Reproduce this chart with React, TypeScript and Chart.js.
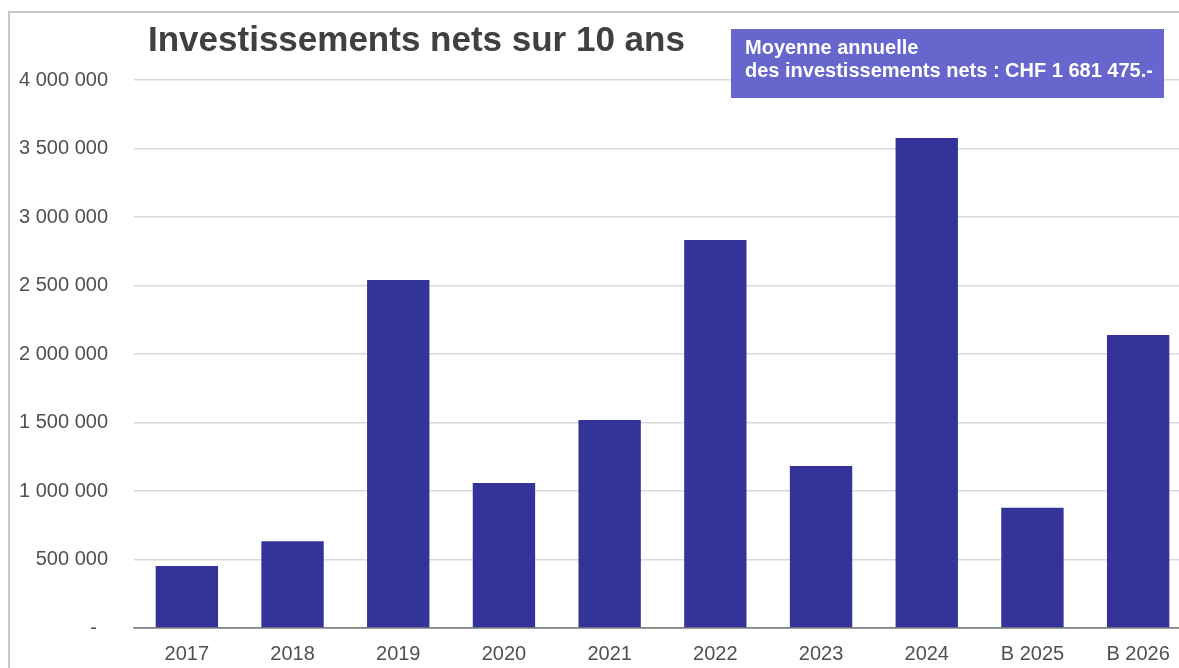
import React, { useEffect, useRef } from "react";
import { Chart, registerables } from "chart.js";

Chart.register(...registerables);

const categories = ["2017", "2018", "2019", "2020", "2021", "2022", "2023", "2024", "B 2025", "B 2026"];
const netInvestments = [452000, 633000, 2540000, 1058000, 1518000, 2832000, 1182000, 3577000, 878000, 2139000];
const yTickValues = [0, 500000, 1000000, 1500000, 2000000, 2500000, 3000000, 3500000, 4000000];
const titleText = "Investissements nets sur 10 ans";
const noteLines = ["Moyenne annuelle", "des investissements nets : CHF 1 681 475.-"];

const FONT = "'Liberation Sans', Arial, sans-serif";

function fmt(v: number): string {
  if (v === 0) return "-  ";
  return String(Math.round(v)).replace(/\B(?=(\d{3})+(?!\d))/g, " ");
}

const decorPlugin = {
  id: "decor",
  afterDraw(chart: any) {
    const ctx = chart.ctx as CanvasRenderingContext2D;
    ctx.save();
    // frame
    ctx.strokeStyle = "#c8c8c8";
    ctx.lineWidth = 2;
    ctx.beginPath();
    ctx.moveTo(9, 700);
    ctx.lineTo(9, 12);
    ctx.lineTo(1300, 12);
    ctx.stroke();
    // title
    ctx.fillStyle = "#404040";
    ctx.font = `bold 35px ${FONT}`;
    ctx.textAlign = "left";
    ctx.textBaseline = "middle";
    ctx.fillText(titleText, 148, 41);
    // note box
    ctx.fillStyle = "#6666cc";
    ctx.fillRect(731, 29, 433, 69);
    ctx.fillStyle = "#ffffff";
    ctx.font = `bold 20px ${FONT}`;
    ctx.fillText(noteLines[0], 745, 48);
    ctx.fillText(noteLines[1], 745, 71);
    ctx.restore();
  },
};

export default function App() {
  const ref = useRef<HTMLCanvasElement | null>(null);
  useEffect(() => {
    if (!ref.current) return;
    const chart = new Chart(ref.current, {
      type: "bar",
      data: {
        labels: categories,
        datasets: [
          {
            data: netInvestments,
            backgroundColor: "#333399",
            borderWidth: 0,
            barPercentage: 0.59,
            categoryPercentage: 1,
          },
        ],
      },
      options: {
        animation: false,
        responsive: false,
        maintainAspectRatio: false,
        layout: { padding: { top: 80, right: 9, left: 0, bottom: 0 } },
        plugins: { legend: { display: false }, title: { display: false }, tooltip: { enabled: false } },
        scales: {
          x: {
            grid: { display: false, drawTicks: false },
            border: { display: true, color: "#808080", width: 1.5 },
            ticks: { color: "#505050", font: { family: FONT, size: 20 }, padding: 14, maxRotation: 0, autoSkip: false },
            afterFit: (s: any) => {
              s.height = 40;
            },
          },
          y: {
            min: 0,
            max: 4000000,
            afterBuildTicks: (s: any) => {
              s.ticks = yTickValues.map((v) => ({ value: v }));
            },
            grid: {
              drawTicks: false,
              color: (c: any) => (c.tick && c.tick.value === 0 ? "#808080" : "#d9d9d9"),
              lineWidth: 1.5,
            },
            border: { display: false },
            ticks: {
              color: "#505050",
              font: { family: FONT, size: 20 },
              padding: 26,
              callback: (v: any) => fmt(Number(v)),
            },
            afterFit: (s: any) => {
              s.width = 134;
            },
          },
        },
      },
      plugins: [decorPlugin],
    });
    return () => chart.destroy();
  }, []);
  return (
    <div style={{ position: "fixed", left: 0, top: 0, width: 1179, height: 668, overflow: "hidden", background: "#fff" }}>
      <canvas ref={ref} width={1200} height={668} style={{ display: "block", width: 1200, height: 668 }} />
    </div>
  );
}
